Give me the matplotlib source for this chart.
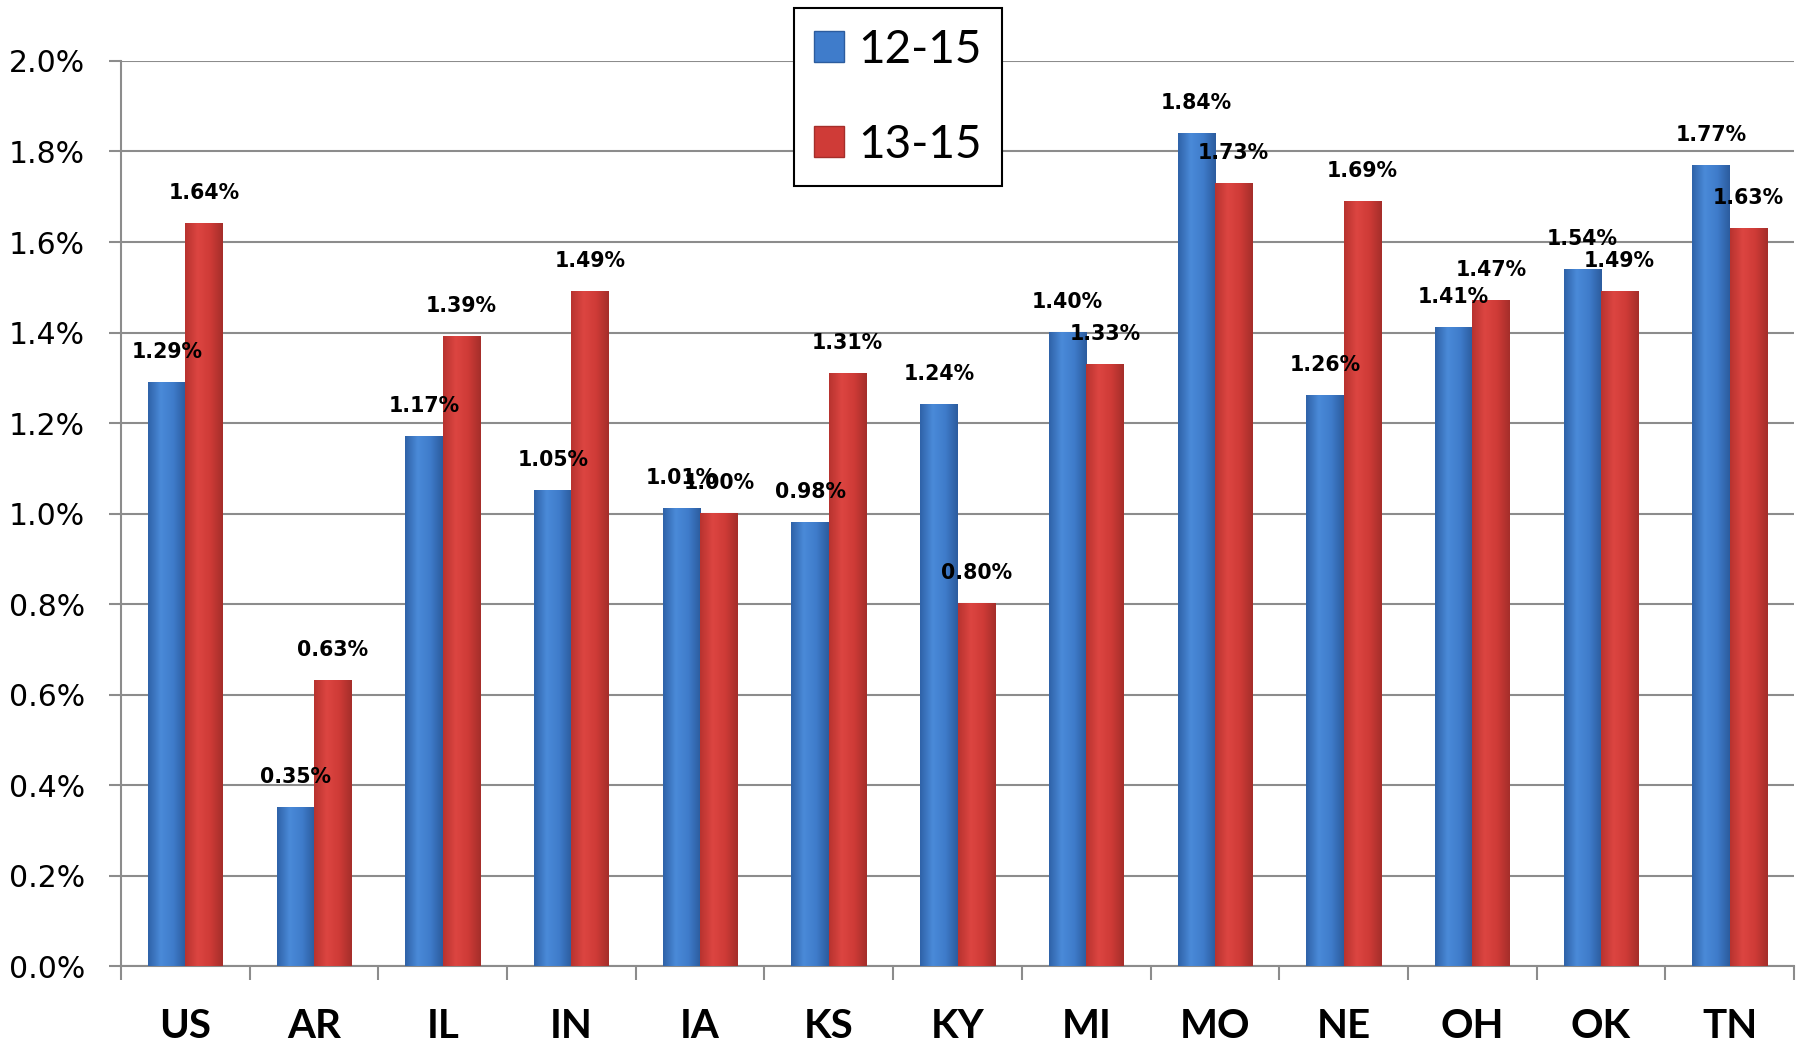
import numpy as np
import matplotlib.pyplot as plt
from matplotlib.colors import LinearSegmentedColormap
from matplotlib.patches import Patch
from matplotlib.ticker import FuncFormatter, FixedLocator

plt.rcParams['font.family'] = ['Lato', 'DejaVu Sans']

# Data (percent)
states = ['US', 'AR', 'IL', 'IN', 'IA', 'KS', 'KY', 'MI', 'MO', 'NE', 'OH', 'OK', 'TN']
growth_12_15 = [1.29, 0.35, 1.17, 1.05, 1.01, 0.98, 1.24, 1.40, 1.84, 1.26, 1.41, 1.54, 1.77]
growth_13_15 = [1.64, 0.63, 1.39, 1.49, 1.00, 1.31, 0.80, 1.33, 1.73, 1.69, 1.47, 1.49, 1.63]
series_names = ['12-15', '13-15']

blue_cmap = LinearSegmentedColormap.from_list('b', ['#2f62a8', '#4a8ad8', '#3f7ccb', '#2c5c9e'])
red_cmap = LinearSegmentedColormap.from_list('r', ['#b8332f', '#dc4541', '#cf3b37', '#a52e2a'])

fig = plt.figure(figsize=(18.01, 10.48), dpi=100)
ax = fig.add_axes([0.0672, 0.0782, 0.9289, 0.8636])

x = np.arange(len(states))
w = 0.29
grad = np.linspace(0, 1, 64).reshape(1, -1)

for vals, offset, cmap in [(growth_12_15, -w / 2, blue_cmap), (growth_13_15, w / 2, red_cmap)]:
    bars = ax.bar(x + offset, vals, width=w, color='none', edgecolor='none', zorder=3)
    for b, v in zip(bars, vals):
        x0, x1 = b.get_x(), b.get_x() + b.get_width()
        ax.imshow(grad, cmap=cmap, aspect='auto', extent=(x0, x1, 0, v), zorder=3,
                  interpolation='bicubic')
        ax.annotate(f'{v:.2f}%', (b.get_x() + b.get_width() / 2, v), xytext=(0, 22),
                    textcoords='offset points', ha='center', va='center',
                    fontsize=14.8, fontweight='bold', family='DejaVu Sans',
                    color='black', zorder=5)

ax.set_xlim(-0.5, len(states) - 0.5)
ax.set_ylim(0, 2.0)

ax.yaxis.set_major_locator(FixedLocator(np.arange(0, 2.01, 0.2)))
ax.yaxis.set_major_formatter(FuncFormatter(lambda v, p: f'{v:.1f}%'))
ax.grid(axis='y', color='#8c8c8c', linewidth=1.5, zorder=0)
ax.set_axisbelow(True)

ax.set_xticks(x)
ax.set_xticklabels(states, fontsize=29, fontweight='bold')
ax.set_xticks(np.arange(-0.5, len(states), 1), minor=True)
ax.tick_params(axis='x', which='major', length=0, pad=30)
ax.tick_params(axis='x', which='minor', length=10, width=1.5, color='#8c8c8c')
ax.tick_params(axis='y', length=9, width=1.5, color='#8c8c8c', pad=17)
for lbl in ax.get_yticklabels():
    lbl.set_family('DejaVu Sans')
    lbl.set_fontsize(21.5)

for s in ['top', 'right']:
    ax.spines[s].set_visible(False)
for s in ['left', 'bottom']:
    ax.spines[s].set_color('#8c8c8c')
    ax.spines[s].set_linewidth(1.5)

handles = [Patch(facecolor='#3f7ccb', edgecolor='#2c5c9e'),
           Patch(facecolor='#cf3b37', edgecolor='#a52e2a')]
leg = fig.legend(handles, series_names, loc='upper center', bbox_to_anchor=(0.4986, 0.992),
                 bbox_transform=fig.transFigure, fontsize=33, frameon=True, fancybox=False,
                 handlelength=0.66, handleheight=0.66, handletextpad=0.3, labelspacing=1.15,
                 borderpad=0.45, borderaxespad=0, framealpha=1)
leg.get_frame().set_edgecolor('black')
leg.get_frame().set_linewidth(1.5)
leg.set_zorder(10)

fig.savefig('out.png', dpi=100)
